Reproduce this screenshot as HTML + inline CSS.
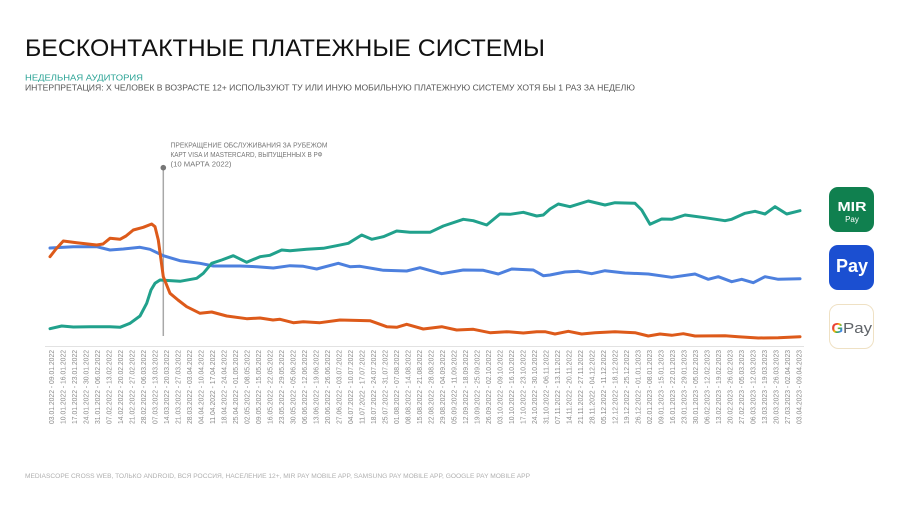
<!DOCTYPE html>
<html>
<head>
<meta charset="utf-8">
<style>
html,body{margin:0;padding:0;background:#fff;}
svg{display:block;}
text{font-family:"Liberation Sans","Noto Sans CJK SC",sans-serif;}
</style>
</head>
<body>
<svg width="900" height="506" viewBox="0 0 900 506" xmlns="http://www.w3.org/2000/svg">
<defs>
<linearGradient id="gg" x1="0" y1="0" x2="1" y2="1">
<stop offset="0" stop-color="#ea4335"/>
<stop offset="0.35" stop-color="#ea4335"/>
<stop offset="0.45" stop-color="#fbbc04"/>
<stop offset="0.6" stop-color="#34a853"/>
<stop offset="0.75" stop-color="#4285f4"/>
<stop offset="1" stop-color="#4285f4"/>
</linearGradient>
</defs>

<!-- Title -->
<text x="25" y="56" font-size="24.5" fill="#111" textLength="520" lengthAdjust="spacingAndGlyphs">БЕСКОНТАКТНЫЕ ПЛАТЕЖНЫЕ СИСТЕМЫ</text>
<text x="25" y="80.5" font-size="8.5" fill="#2aa395" textLength="118" lengthAdjust="spacingAndGlyphs">НЕДЕЛЬНАЯ АУДИТОРИЯ</text>
<text x="25" y="90.5" font-size="8.5" fill="#555" textLength="610" lengthAdjust="spacingAndGlyphs">ИНТЕРПРЕТАЦИЯ: Х ЧЕЛОВЕК В ВОЗРАСТЕ 12+ ИСПОЛЬЗУЮТ ТУ ИЛИ ИНУЮ МОБИЛЬНУЮ ПЛАТЕЖНУЮ СИСТЕМУ ХОТЯ БЫ 1 РАЗ ЗА НЕДЕЛЮ</text>

<!-- Annotation -->
<text x="170.5" y="147.5" font-size="7.2" fill="#777" textLength="157" lengthAdjust="spacingAndGlyphs">ПРЕКРАЩЕНИЕ ОБСЛУЖИВАНИЯ ЗА РУБЕЖОМ</text>
<text x="170.5" y="157" font-size="7.2" fill="#777" textLength="152" lengthAdjust="spacingAndGlyphs">КАРТ VISA И MASTERCARD, ВЫПУЩЕННЫХ В РФ</text>
<text x="170.5" y="166.5" font-size="7.2" fill="#777" textLength="61" lengthAdjust="spacingAndGlyphs">(10 МАРТА 2022)</text>

<!-- Axis line -->
<line x1="45" y1="346.5" x2="804" y2="346.5" stroke="#e2e2e2" stroke-width="1"/>

<!-- Vertical marker -->
<line x1="163.3" y1="168" x2="163.3" y2="336" stroke="#a8a8a8" stroke-width="1.5"/>
<circle cx="163.3" cy="167.7" r="2.8" fill="#777"/>

<!-- Series -->
<polyline fill="none" stroke="#4d80de" stroke-width="3" stroke-linejoin="round" stroke-linecap="round"
points="50,248 73.3,246.7 96.7,246.7 110,250 123.3,249 140,247.3 150,249.3 163.3,255.7 180,260.7 200,263.3 213.3,266 240,266 256.7,266.7 273.3,268 290,265.7 303.3,266.3 316.7,269 338.3,263.3 350,266.7 360,266.3 383.3,270.3 406.7,271 420,267.7 441.7,273.7 463.3,270 483.3,270.3 498.3,274 511.7,269 533.3,270 543.3,275.7 550,275 565,272 578.3,271.3 591.7,273.7 605,270.7 625,273 648.3,274 671.7,277.3 695,274 708.3,279.3 718.3,276.7 731.7,281.7 741.7,279.3 753.3,282.7 765,276.7 778.3,279.3 800,278.7"/>

<polyline fill="none" stroke="#21a18c" stroke-width="3" stroke-linejoin="round" stroke-linecap="round"
points="50,328.7 61.7,326 73.3,327 90,326.7 110,326.7 120,327.3 130,323.3 140,316 146.7,303.3 151,290 155,283.3 160,280 180,281.3 196.7,278.3 203.3,273.3 211.7,263.3 221.7,260 233.3,255.7 246.7,262.3 260,256.7 270,255.3 281.7,250 290,250.7 306.7,249.3 323.3,248.3 336.7,245.7 348.3,243.3 361.7,235 371.7,239.3 383.3,236.7 396.7,231 410,232.3 430,232.3 443.3,226 463.3,219.3 473.3,220.7 486.7,225 500,214 510,214.3 523.3,212.3 536.7,216 543.3,215 550,209 558.3,204 570,206.7 588.3,201 605,205 615,202.7 635,203.3 641.7,210 650,224.3 661.7,219 671.7,219.3 685,215 705,217.7 725,220.7 731.7,219.3 745,213.3 755,211.3 765,214 775,206.7 786.7,214 800,210.7"/>

<polyline fill="none" stroke="#dd5a1a" stroke-width="3" stroke-linejoin="round" stroke-linecap="round"
points="50,256.7 56,249 63.3,241 76.7,242.7 96.7,245 103,244 110,238.3 120,239.3 126,236 133.3,230 143.3,227.3 151.7,224 155,226.7 158.3,240 163.3,276.7 170,293.3 178,300 186.7,306.7 200,313.3 211.7,312 226.7,316 246.7,318.7 260,318 273,320 280,319.3 293.3,322.7 303.3,321.7 320,322.7 340,320 370,320.7 386.7,326.7 396.7,327.3 406.7,324.3 423.3,329 441.7,326.7 456.7,330 473.3,329.3 490,332.7 506.7,331.7 523.3,333 536.7,331.7 545,331.7 555,334 568.3,331.3 581.7,334 595,332.7 615,331.7 635,332.7 648.3,336 660,334 671.7,335.3 683.3,333.7 695,336 725,335.7 738.3,336.7 758.3,338 778.3,337.7 800,336.7"/>

<!-- X labels -->
<g font-size="7" fill="#8c8c8c" text-anchor="end">
<text transform="translate(54.2,350) rotate(-90)" textLength="74" lengthAdjust="spacingAndGlyphs">03.01.2022 - 09.01.2022</text>
<text transform="translate(65.7,350) rotate(-90)" textLength="74" lengthAdjust="spacingAndGlyphs">10.01.2022 - 16.01.2022</text>
<text transform="translate(77.2,350) rotate(-90)" textLength="74" lengthAdjust="spacingAndGlyphs">17.01.2022 - 23.01.2022</text>
<text transform="translate(88.7,350) rotate(-90)" textLength="74" lengthAdjust="spacingAndGlyphs">24.01.2022 - 30.01.2022</text>
<text transform="translate(100.2,350) rotate(-90)" textLength="74" lengthAdjust="spacingAndGlyphs">31.01.2022 - 06.02.2022</text>
<text transform="translate(111.7,350) rotate(-90)" textLength="74" lengthAdjust="spacingAndGlyphs">07.02.2022 - 13.02.2022</text>
<text transform="translate(123.2,350) rotate(-90)" textLength="74" lengthAdjust="spacingAndGlyphs">14.02.2022 - 20.02.2022</text>
<text transform="translate(134.7,350) rotate(-90)" textLength="74" lengthAdjust="spacingAndGlyphs">21.02.2022 - 27.02.2022</text>
<text transform="translate(146.2,350) rotate(-90)" textLength="74" lengthAdjust="spacingAndGlyphs">28.02.2022 - 06.03.2022</text>
<text transform="translate(157.7,350) rotate(-90)" textLength="74" lengthAdjust="spacingAndGlyphs">07.03.2022 - 13.03.2022</text>
<text transform="translate(169.2,350) rotate(-90)" textLength="74" lengthAdjust="spacingAndGlyphs">14.03.2022 - 20.03.2022</text>
<text transform="translate(180.7,350) rotate(-90)" textLength="74" lengthAdjust="spacingAndGlyphs">21.03.2022 - 27.03.2022</text>
<text transform="translate(192.2,350) rotate(-90)" textLength="74" lengthAdjust="spacingAndGlyphs">28.03.2022 - 03.04.2022</text>
<text transform="translate(203.7,350) rotate(-90)" textLength="74" lengthAdjust="spacingAndGlyphs">04.04.2022 - 10.04.2022</text>
<text transform="translate(215.2,350) rotate(-90)" textLength="74" lengthAdjust="spacingAndGlyphs">11.04.2022 - 17.04.2022</text>
<text transform="translate(226.7,350) rotate(-90)" textLength="74" lengthAdjust="spacingAndGlyphs">18.04.2022 - 24.04.2022</text>
<text transform="translate(238.2,350) rotate(-90)" textLength="74" lengthAdjust="spacingAndGlyphs">25.04.2022 - 01.05.2022</text>
<text transform="translate(249.7,350) rotate(-90)" textLength="74" lengthAdjust="spacingAndGlyphs">02.05.2022 - 08.05.2022</text>
<text transform="translate(261.2,350) rotate(-90)" textLength="74" lengthAdjust="spacingAndGlyphs">09.05.2022 - 15.05.2022</text>
<text transform="translate(272.7,350) rotate(-90)" textLength="74" lengthAdjust="spacingAndGlyphs">16.05.2022 - 22.05.2022</text>
<text transform="translate(284.2,350) rotate(-90)" textLength="74" lengthAdjust="spacingAndGlyphs">23.05.2022 - 29.05.2022</text>
<text transform="translate(295.7,350) rotate(-90)" textLength="74" lengthAdjust="spacingAndGlyphs">30.05.2022 - 05.06.2022</text>
<text transform="translate(307.2,350) rotate(-90)" textLength="74" lengthAdjust="spacingAndGlyphs">06.06.2022 - 12.06.2022</text>
<text transform="translate(318.7,350) rotate(-90)" textLength="74" lengthAdjust="spacingAndGlyphs">13.06.2022 - 19.06.2022</text>
<text transform="translate(330.2,350) rotate(-90)" textLength="74" lengthAdjust="spacingAndGlyphs">20.06.2022 - 26.06.2022</text>
<text transform="translate(341.7,350) rotate(-90)" textLength="74" lengthAdjust="spacingAndGlyphs">27.06.2022 - 03.07.2022</text>
<text transform="translate(353.2,350) rotate(-90)" textLength="74" lengthAdjust="spacingAndGlyphs">04.07.2022 - 10.07.2022</text>
<text transform="translate(364.7,350) rotate(-90)" textLength="74" lengthAdjust="spacingAndGlyphs">11.07.2022 - 17.07.2022</text>
<text transform="translate(376.2,350) rotate(-90)" textLength="74" lengthAdjust="spacingAndGlyphs">18.07.2022 - 24.07.2022</text>
<text transform="translate(387.7,350) rotate(-90)" textLength="74" lengthAdjust="spacingAndGlyphs">25.07.2022 - 31.07.2022</text>
<text transform="translate(399.2,350) rotate(-90)" textLength="74" lengthAdjust="spacingAndGlyphs">01.08.2022 - 07.08.2022</text>
<text transform="translate(410.7,350) rotate(-90)" textLength="74" lengthAdjust="spacingAndGlyphs">08.08.2022 - 14.08.2022</text>
<text transform="translate(422.2,350) rotate(-90)" textLength="74" lengthAdjust="spacingAndGlyphs">15.08.2022 - 21.08.2022</text>
<text transform="translate(433.7,350) rotate(-90)" textLength="74" lengthAdjust="spacingAndGlyphs">22.08.2022 - 28.08.2022</text>
<text transform="translate(445.2,350) rotate(-90)" textLength="74" lengthAdjust="spacingAndGlyphs">29.08.2022 - 04.09.2022</text>
<text transform="translate(456.7,350) rotate(-90)" textLength="74" lengthAdjust="spacingAndGlyphs">05.09.2022 - 11.09.2022</text>
<text transform="translate(468.2,350) rotate(-90)" textLength="74" lengthAdjust="spacingAndGlyphs">12.09.2022 - 18.09.2022</text>
<text transform="translate(479.7,350) rotate(-90)" textLength="74" lengthAdjust="spacingAndGlyphs">19.09.2022 - 25.09.2022</text>
<text transform="translate(491.2,350) rotate(-90)" textLength="74" lengthAdjust="spacingAndGlyphs">26.09.2022 - 02.10.2022</text>
<text transform="translate(502.7,350) rotate(-90)" textLength="74" lengthAdjust="spacingAndGlyphs">03.10.2022 - 09.10.2022</text>
<text transform="translate(514.2,350) rotate(-90)" textLength="74" lengthAdjust="spacingAndGlyphs">10.10.2022 - 16.10.2022</text>
<text transform="translate(525.7,350) rotate(-90)" textLength="74" lengthAdjust="spacingAndGlyphs">17.10.2022 - 23.10.2022</text>
<text transform="translate(537.2,350) rotate(-90)" textLength="74" lengthAdjust="spacingAndGlyphs">24.10.2022 - 30.10.2022</text>
<text transform="translate(548.7,350) rotate(-90)" textLength="74" lengthAdjust="spacingAndGlyphs">31.10.2022 - 06.11.2022</text>
<text transform="translate(560.2,350) rotate(-90)" textLength="74" lengthAdjust="spacingAndGlyphs">07.11.2022 - 13.11.2022</text>
<text transform="translate(571.7,350) rotate(-90)" textLength="74" lengthAdjust="spacingAndGlyphs">14.11.2022 - 20.11.2022</text>
<text transform="translate(583.2,350) rotate(-90)" textLength="74" lengthAdjust="spacingAndGlyphs">21.11.2022 - 27.11.2022</text>
<text transform="translate(594.7,350) rotate(-90)" textLength="74" lengthAdjust="spacingAndGlyphs">28.11.2022 - 04.12.2022</text>
<text transform="translate(606.2,350) rotate(-90)" textLength="74" lengthAdjust="spacingAndGlyphs">05.12.2022 - 11.12.2022</text>
<text transform="translate(617.7,350) rotate(-90)" textLength="74" lengthAdjust="spacingAndGlyphs">12.12.2022 - 18.12.2022</text>
<text transform="translate(629.2,350) rotate(-90)" textLength="74" lengthAdjust="spacingAndGlyphs">19.12.2022 - 25.12.2022</text>
<text transform="translate(640.7,350) rotate(-90)" textLength="74" lengthAdjust="spacingAndGlyphs">26.12.2022 - 01.01.2023</text>
<text transform="translate(652.2,350) rotate(-90)" textLength="74" lengthAdjust="spacingAndGlyphs">02.01.2023 - 08.01.2023</text>
<text transform="translate(663.7,350) rotate(-90)" textLength="74" lengthAdjust="spacingAndGlyphs">09.01.2023 - 15.01.2023</text>
<text transform="translate(675.2,350) rotate(-90)" textLength="74" lengthAdjust="spacingAndGlyphs">16.01.2023 - 22.01.2023</text>
<text transform="translate(686.7,350) rotate(-90)" textLength="74" lengthAdjust="spacingAndGlyphs">23.01.2023 - 29.01.2023</text>
<text transform="translate(698.2,350) rotate(-90)" textLength="74" lengthAdjust="spacingAndGlyphs">30.01.2023 - 05.02.2023</text>
<text transform="translate(709.7,350) rotate(-90)" textLength="74" lengthAdjust="spacingAndGlyphs">06.02.2023 - 12.02.2023</text>
<text transform="translate(721.2,350) rotate(-90)" textLength="74" lengthAdjust="spacingAndGlyphs">13.02.2023 - 19.02.2023</text>
<text transform="translate(732.7,350) rotate(-90)" textLength="74" lengthAdjust="spacingAndGlyphs">20.02.2023 - 26.02.2023</text>
<text transform="translate(744.2,350) rotate(-90)" textLength="74" lengthAdjust="spacingAndGlyphs">27.02.2023 - 05.03.2023</text>
<text transform="translate(755.7,350) rotate(-90)" textLength="74" lengthAdjust="spacingAndGlyphs">06.03.2023 - 12.03.2023</text>
<text transform="translate(767.2,350) rotate(-90)" textLength="74" lengthAdjust="spacingAndGlyphs">13.03.2023 - 19.03.2023</text>
<text transform="translate(778.7,350) rotate(-90)" textLength="74" lengthAdjust="spacingAndGlyphs">20.03.2023 - 26.03.2023</text>
<text transform="translate(790.2,350) rotate(-90)" textLength="74" lengthAdjust="spacingAndGlyphs">27.03.2023 - 02.04.2023</text>
<text transform="translate(801.7,350) rotate(-90)" textLength="74" lengthAdjust="spacingAndGlyphs">03.04.2023 - 09.04.2023</text>
</g>

<!-- Icons -->
<rect x="829" y="187" width="45" height="45" rx="9" fill="#10804f"/>
<text x="852" y="211" font-size="12.5" font-weight="bold" fill="#fff" text-anchor="middle" textLength="29" lengthAdjust="spacingAndGlyphs">MIR</text>
<text x="852" y="222" font-size="8" fill="#fff" text-anchor="middle">Pay</text>

<rect x="829" y="245" width="45" height="45" rx="9" fill="#1b4fd1"/>
<text x="852" y="272" font-size="18" font-weight="bold" fill="#fff" text-anchor="middle" textLength="32" lengthAdjust="spacingAndGlyphs">Pay</text>

<rect x="829.5" y="304.5" width="44" height="44" rx="9" fill="#fff" stroke="#efe1c4" stroke-width="1"/>
<text x="831.5" y="333" font-size="15" font-weight="bold" fill="url(#gg)">G</text>
<text x="843" y="333" font-size="14.5" fill="#5f6368" textLength="29" lengthAdjust="spacingAndGlyphs">Pay</text>

<!-- Footer -->
<text x="25" y="478" font-size="6.8" fill="#b0b0b0" textLength="505" lengthAdjust="spacingAndGlyphs">MEDIASCOPE CROSS WEB, ТОЛЬКО ANDROID, ВСЯ РОССИЯ, НАСЕЛЕНИЕ 12+, MIR PAY MOBILE APP, SAMSUNG PAY MOBILE APP, GOOGLE PAY MOBILE APP</text>
</svg>
</body>
</html>
